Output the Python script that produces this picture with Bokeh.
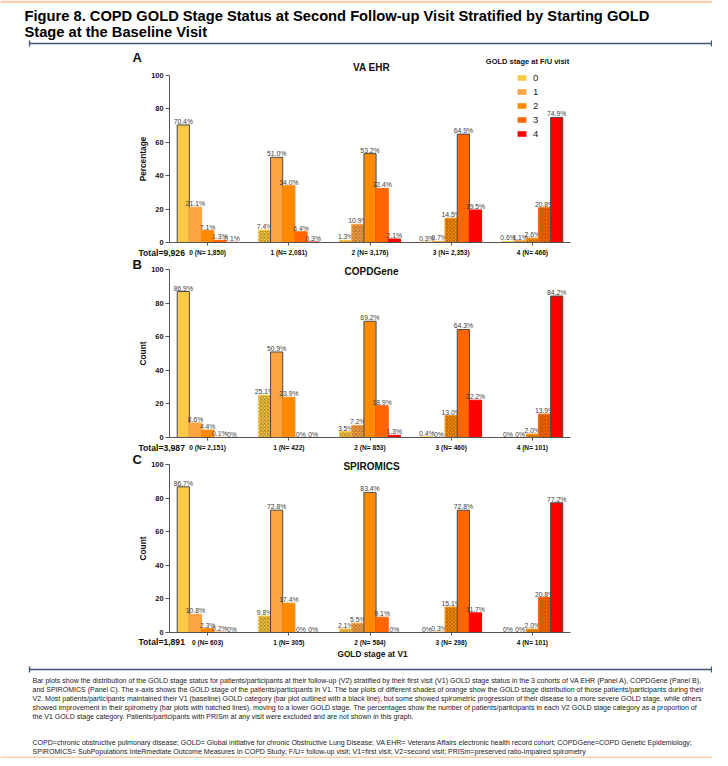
from bokeh.plotting import figure
from bokeh.layouts import column
from bokeh.models import (ColumnDataSource, Range1d, FixedTicker, Label, Legend, LegendItem,
                          LinearAxis)
from bokeh.core.properties import value
from bokeh.embed import file_html
from bokeh.resources import INLINE

# ---------------- data ----------------
stages = ["0", "1", "2", "3", "4"]
stage_colors = ["#FCC845", "#FCA344", "#FF8A00", "#FF6600", "#FF0000"]
v1_stages = [0, 1, 2, 3, 4]

va_ehr = [[70.4, 21.1, 7.1, 1.3, 0.1],
          [7.4, 51.0, 34.0, 6.4, 0.3],
          [1.3, 10.9, 53.2, 32.4, 2.1],
          [0.3, 0.7, 14.5, 64.9, 19.5],
          [0.6, 1.1, 2.6, 20.8, 74.9]]
va_ehr_n = ["1,850", "2,081", "3,176", "2,353", "466"]
va_ehr_total = "9,926"

copdgene = [[86.9, 8.6, 4.4, 0.1, 0.0],
            [25.1, 50.9, 23.9, 0.0, 0.0],
            [3.5, 7.2, 69.2, 18.9, 1.3],
            [0.4, 0.0, 13.0, 64.3, 22.2],
            [0.0, 0.0, 2.0, 13.9, 84.2]]
copdgene_n = ["2,151", "422", "853", "460", "101"]
copdgene_total = "3,987"

spiromics = [[86.7, 10.8, 2.3, 0.2, 0.0],
             [9.8, 72.8, 17.4, 0.0, 0.0],
             [2.1, 5.5, 83.4, 9.1, 0.0],
             [0.0, 0.3, 15.1, 72.8, 11.7],
             [0.0, 0.0, 2.0, 20.8, 77.2]]
spiromics_n = ["603", "305", "584", "298", "101"]
spiromics_total = "1,891"

y_ticks = [0, 20, 40, 60, 80, 100]

title_lines = ["Figure 8. COPD GOLD Stage Status at Second Follow-up Visit Stratified by Starting GOLD",
               "Stage at the Baseline Visit"]
footnote_lines = [
    "Bar plots show the distribution of the GOLD stage status for patients/participants at their follow-up (V2) stratified by their first visit (V1) GOLD stage status in the 3 cohorts of VA EHR (Panel A), COPDGene (Panel B),",
    "and SPIROMICS (Panel C). The x-axis shows the GOLD stage of the patients/participants in V1. The bar plots of different shades of orange show the GOLD stage distribution of those patients/participants during their",
    "V2. Most patients/participants maintained their V1 (baseline) GOLD category (bar plot outlined with a black line), but some showed spirometric progression of their disease to a more severe GOLD stage, while others",
    "showed improvement in their spirometry (bar plots with hatched lines), moving to a lower GOLD stage. The percentages show the number of patients/participants in each V2 GOLD stage category as a proportion of",
    "the V1 GOLD stage category. Patients/participants with PRISm at any visit were excluded and are not shown in this graph.",
]
abbrev_lines = [
    "COPD=chronic obstructive pulmonary disease; GOLD= Global initiative for chronic Obstructive Lung Disease; VA EHR= Veterans Affairs electronic health record cohort; COPDGene=COPD Genetic Epidemiology;",
    "SPIROMICS= SubPopulations InteRmediate Outcome Measures In COPD Study; F/U= follow-up visit; V1=first visit; V2=second visit; PRISm=preserved ratio-impaired spirometry",
]

FONT = "Liberation Sans"
W = 712
PEACH = "#F8CDB0"
RULE = "#3D5573"
AX = "#555555"
TXT = "#111111"
BAR_W = 0.15
X0, X1 = -0.47, 4.47          # axis extent in data units
AX_L, AX_R = 169, 570         # axis extent in figure px
PXU = (AX_R - AX_L) / (X1 - X0)


def xd(fx):
    return X0 + (fx - AX_L) / PXU


def bare_fig(h):
    p = figure(width=W, height=h, x_range=Range1d(0, W), y_range=Range1d(h, 0),
               output_backend="svg", toolbar_location=None, title=None,
               x_axis_type=None, y_axis_type=None,
               min_border=0, min_border_left=0, min_border_right=0,
               min_border_top=0, min_border_bottom=0)
    p.grid.visible = False
    p.outline_line_color = None
    return p


def make_panel(letter, name, ylabel, data, ns, total, h, y100, y0, pos, xlabel=None, legend=False):
    k = 100.0 / (y0 - y100)

    def yd(py):
        return (y0 - py) * k

    p = figure(width=W, height=h, x_range=Range1d(xd(0), xd(W)), y_range=Range1d(yd(h), yd(0)),
               output_backend="svg", toolbar_location=None, title=None,
               x_axis_type=None, y_axis_type=None,
               min_border=0, min_border_left=0, min_border_right=0,
               min_border_top=0, min_border_bottom=0)
    p.outline_line_color = None
    p.grid.visible = False
    p.background_fill_color = "white"
    p.border_fill_color = "white"

    for s in range(5):
        xs = [c + (s - 2) * BAR_W for c in v1_stages]
        tops = [data[c][s] for c in v1_stages]
        lc = ["#4a4a4a" if s == c else stage_colors[s] for c in v1_stages]
        hp = ["x" if s < c else " " for c in v1_stages]
        lbl = ["0%" if v == 0 else f"{v:.1f}%" for v in tops]
        src = ColumnDataSource(dict(x=xs, top=tops, lc=lc, hp=hp, lbl=lbl))
        p.vbar(x="x", top="top", width=BAR_W, source=src, fill_color=stage_colors[s],
               line_color="lc", line_width=1, hatch_pattern="hp", hatch_color="#5a4018",
               hatch_alpha=0.8, hatch_scale=3.5, hatch_weight=0.7)
        p.text(x="x", y="top", text="lbl", source=src, text_align="center", text_baseline="bottom",
               text_font=value(FONT), text_font_size="6.8px", text_color="#3c3c3c")

    yax = LinearAxis(fixed_location=X0, bounds=(0, 100), ticker=FixedTicker(ticks=y_ticks),
                     axis_label=ylabel)
    yax.minor_tick_line_color = None
    yax.major_tick_out = 4
    yax.major_tick_in = 0
    yax.major_label_standoff = 2
    yax.axis_line_color = AX
    yax.major_tick_line_color = AX
    yax.major_label_text_font = FONT
    yax.major_label_text_font_style = "bold"
    yax.major_label_text_font_size = "7.4px"
    yax.major_label_text_color = TXT
    yax.axis_label_text_font = FONT
    yax.axis_label_text_font_style = "bold"
    yax.axis_label_text_font_size = "8.3px"
    yax.axis_label_text_color = TXT
    yax.axis_label_standoff = 0
    p.add_layout(yax, "left")

    xax = LinearAxis(fixed_location=0, bounds=(X0, X1), ticker=FixedTicker(ticks=v1_stages))
    xax.major_label_overrides = {c: f"{stages[c]} (N= {ns[c]})" for c in v1_stages}
    xax.minor_tick_line_color = None
    xax.major_tick_out = 3
    xax.major_tick_in = 0
    xax.major_label_standoff = 3
    xax.axis_line_color = AX
    xax.major_tick_line_color = AX
    xax.major_label_text_font = FONT
    xax.major_label_text_font_style = "bold"
    xax.major_label_text_font_size = "6.6px"
    xax.major_label_text_color = TXT
    p.add_layout(xax, "below")

    letter_y, name_y, total_y = pos
    p.add_layout(Label(x=xd(132), y=yd(letter_y), text=letter, text_font=FONT, text_font_style="bold",
                       text_font_size="13px", text_baseline="middle", text_align="left", text_color=TXT))
    p.add_layout(Label(x=xd(371), y=yd(name_y), text=name, text_font=FONT,
                       text_font_style="bold", text_font_size="10px", text_baseline="middle",
                       text_align="center", text_color=TXT))
    p.add_layout(Label(x=xd(138), y=yd(total_y), text=f"Total={total}", text_font=FONT,
                       text_font_style="bold", text_font_size="8.6px", text_baseline="middle",
                       text_align="left", text_color=TXT))
    if xlabel:
        p.add_layout(Label(x=xd(372), y=yd(xlabel[1]), text=xlabel[0], text_font=FONT,
                           text_font_style="bold", text_font_size="8.3px", text_baseline="middle",
                           text_align="center", text_color=TXT))

    if legend:
        p.add_layout(Label(x=xd(527), y=yd(11), text="GOLD stage at F/U visit", text_font=FONT,
                           text_font_style="bold", text_font_size="7.5px", text_baseline="middle",
                           text_align="center", text_color=TXT))
        items = []
        for s in range(5):
            r = p.vbar(x=[0], top=[0], bottom=[0], width=0, fill_color=stage_colors[s], line_color=None)
            items.append(LegendItem(label=stages[s], renderers=[r]))
        lg = Legend(items=items, location=(516, h - 89), glyph_width=11, glyph_height=7,
                    label_height=11, spacing=3, padding=0, margin=0, border_line_alpha=0,
                    background_fill_alpha=0, label_text_font=FONT, label_text_font_size="9.5px",
                    label_standoff=6, label_text_color="#222222", label_text_baseline="middle")
        p.add_layout(lg)
    return p


# header (figure px == picture px)
hdr = bare_fig(50)
hdr.quad(left=[0], right=[W], top=[0], bottom=[2.5], fill_color=PEACH, line_color=None)
hdr.text(x=[24, 24], y=[15, 31], text=title_lines, text_font=value(FONT), text_font_style="bold",
         text_font_size="14.7px", text_baseline="middle", text_color="#000000")
hdr.segment(x0=[29], y0=[43], x1=[711], y1=[43], line_color=RULE, line_width=1.3)
hdr.segment(x0=[29, 711], y0=[40, 40], x1=[29, 711], y1=[46, 46], line_color=RULE, line_width=1.3)

pA = make_panel("A", "VA EHR", "Percentage", va_ehr, va_ehr_n, va_ehr_total,
                h=207, y100=25, y0=192, pos=(7, 17, 202), legend=True)
pB = make_panel("B", "COPDGene", "Count", copdgene, copdgene_n, copdgene_total,
                h=195, y100=12, y0=180, pos=(7, 14, 190))
pC = make_panel("C", "SPIROMICS", "Count", spiromics, spiromics_n, spiromics_total,
                h=212, y100=12, y0=180, pos=(7, 14, 189), xlabel=("GOLD stage at V1", 201))

# footer
ftr = bare_fig(94)
ftr.segment(x0=[29], y0=[5], x1=[711], y1=[5], line_color=RULE, line_width=1.3)
ftr.segment(x0=[29, 711], y0=[2, 2], x1=[29, 711], y1=[8, 8], line_color=RULE, line_width=1.3)
ftr.text(x=[32] * 5, y=[16, 25, 34, 43, 52], text=footnote_lines, text_font=value(FONT),
         text_font_size="7.05px", text_baseline="middle", text_color="#222222")
ftr.text(x=[32] * 2, y=[78, 87], text=abbrev_lines, text_font=value(FONT),
         text_font_size="7.05px", text_baseline="middle", text_color="#222222")
ftr.quad(left=[0], right=[W], top=[92], bottom=[94], fill_color=PEACH, line_color=None)

layout = column(hdr, pA, pB, pC, ftr, spacing=0)
open("out.html", "w").write(file_html(layout, INLINE))
